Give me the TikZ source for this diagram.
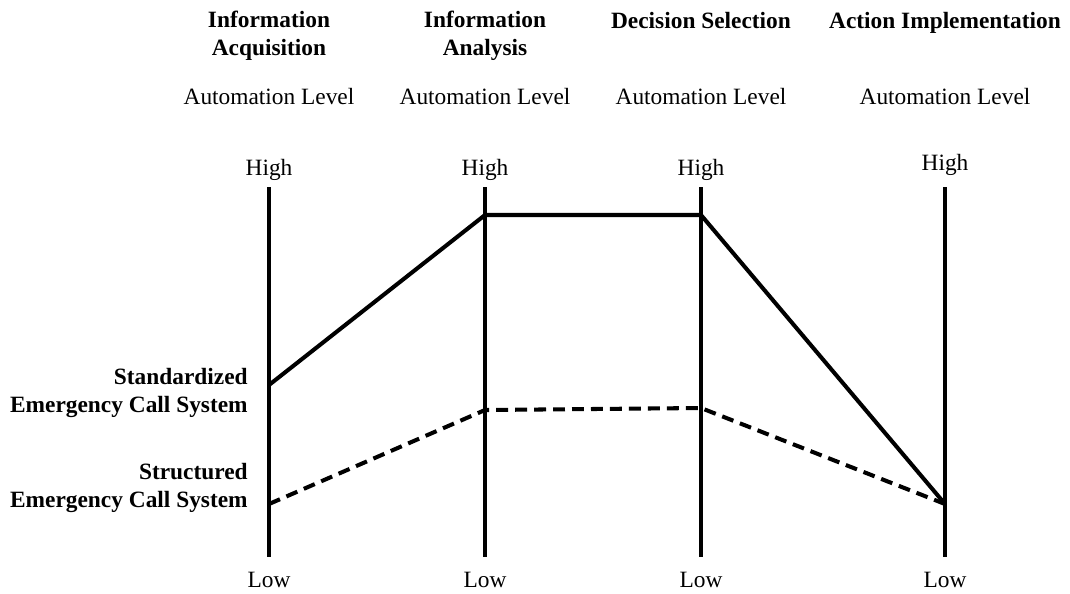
\documentclass[tikz,border=0pt]{standalone}
\usepackage{fontspec}
\setmainfont{Liberation Serif}
\usetikzlibrary{calc}
\tikzset{
  lbl/.style={font=\fontsize{13.3}{15.4}\selectfont, inner sep=0pt, anchor=base},
  hdr/.style={font=\fontsize{13.3}{15.4}\selectfont\bfseries, inner sep=0pt, anchor=base, align=center},
  sysname/.style={font=\fontsize{13.3}{15.4}\selectfont\bfseries, inner sep=0pt, anchor=base east, align=right},
  levelaxis/.style={line width=2.3pt},
  stdline/.style={line width=2.3pt},
  strline/.style={line width=2.3pt, dash pattern=on 6.8pt off 4pt}
}

\begin{document}
\begin{tikzpicture}[x=0.02cm,y=-0.02cm]
    \useasboundingbox (0,0) rectangle (1070,593);
    % stages and axes (base = last line of the header)
    \foreach \n/\x/\sy/\hy/\name in {1/269/55/175/{Information\\Acquisition},
                                     2/485/55/175/{Information\\Analysis},
                                     3/701/28/175/{Decision Selection},
                                     4/945/28/170/{Action Implementation}} {
        \node[hdr] (stage\n) at (\x,\sy) {\name};
        \node[lbl] (level\n) at (\x,104) {Automation Level};
        \node[lbl] (high\n) at (\x,\hy) {High};
        \node[lbl] (low\n) at (\x,587) {Low};
        \draw[levelaxis] (\x,187) coordinate (top\n) -- (\x,557) coordinate (bot\n);
    }
    % system profiles
    \coordinate (std1) at (269,385); \coordinate (std2) at (485,215);
    \coordinate (std3) at (701,215); \coordinate (std4) at (945,504);
    \coordinate (str1) at (269,504); \coordinate (str2) at (485,410);
    \coordinate (str3) at (701,408); \coordinate (str4) at (945,504);
    \draw[stdline] (std1) -- (std2) -- (std3) -- (std4);
    \draw[strline] (str1) -- (str2) -- (str3) -- (str4);
    \node[sysname] (stdname) at (248,412) {Standardized\\Emergency Call System};
    \node[sysname] (strname) at (248,507) {Structured\\Emergency Call System};
\end{tikzpicture}
\end{document}
